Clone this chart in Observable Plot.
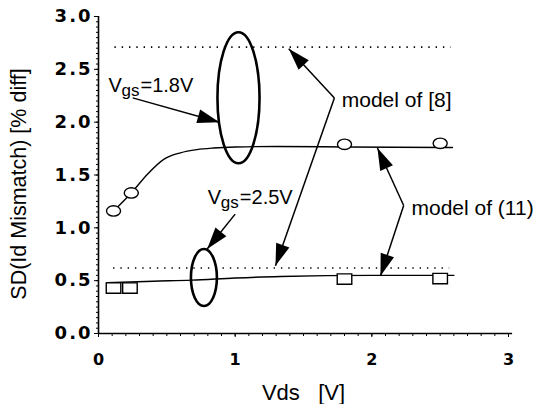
<!DOCTYPE html>
<html>
<head>
<meta charset="utf-8">
<script src="https://cdn.jsdelivr.net/npm/d3@7"></script>
<script src="https://cdn.jsdelivr.net/npm/@observablehq/plot@0.6"></script>
<style>
  html, body { margin: 0; padding: 0; background: #fff; }
  svg text { white-space: pre; }
  g[aria-label^="y-axis"] text { font-family: "DejaVu Sans", sans-serif; font-weight: bold; font-size: 18px; letter-spacing: 2px; fill: #000; }
  g[aria-label^="x-axis"] text { font-family: "DejaVu Sans", sans-serif; font-weight: bold; font-size: 16px; fill: #000; }
  g[aria-label^="y-axis"], g[aria-label^="x-axis"] { color: #000; }
</style>
</head>
<body>
<div id="chart"></div>
<script>
// ---- data ----
const circleVds = [0.11, 0.24, 1.80, 2.50];          // Vgs = 1.8 V measurements
const circleSD  = [1.16, 1.33, 1.79, 1.80];
const squareVds = [0.11, 0.23, 1.80, 2.50];          // Vgs = 2.5 V measurements
const squareSD  = [0.43, 0.43, 0.515, 0.52];
const fit18Vds = [0.11, 0.24, 0.36, 0.48, 0.60, 0.72, 0.84, 1.00, 1.30, 1.80, 2.59]; // model of (11), 1.8 V
const fit18SD  = [1.16, 1.33, 1.51, 1.65, 1.71, 1.74, 1.755, 1.765, 1.77, 1.765, 1.76];
const fit25Vds = [0.06, 0.40, 0.68, 1.00, 1.33, 2.00, 2.60];                         // model of (11), 2.5 V
const fit25SD  = [0.48, 0.495, 0.505, 0.525, 0.54, 0.55, 0.55];
const model8SD = [2.71, 0.62];                       // model of [8] (dotted)
const model8From = [0.12, 0.11];
const model8To   = [2.58, 2.57];
const xTicks = [0, 1, 2, 3];
const xTickLabels = ["0", "1", "2", "3"];
const yTicks = [0, 0.5, 1, 1.5, 2, 2.5, 3];
const yTickLabels = ["0.0", "0.5", "1.0", "1.5", "2.0", "2.5", "3.0"];
const xTitle = "Vds   [V]";
const yTitle = "SD(Id Mismatch) [% diff]";

// annotations (data coordinates)
const ellipseX1 = [0.874, 0.68], ellipseX2 = [1.182, 0.87];
const ellipseY1 = [1.606, 0.255], ellipseY2 = [2.846, 0.795];
const vgsX = [0.073, 0.80], vgsY = [2.281, 1.227], vgsVal = ["=1.8V", "=2.5V"];
const modelText = ["model of [8]", "model of (11)"];
const modelX = [1.78, 2.29], modelY = [2.148, 1.117];
const arrowX1 = [0.25, 1.00, 1.726, 1.726, 2.233, 2.233];
const arrowY1 = [2.23, 1.13, 2.229, 2.229, 1.211, 1.211];
const arrowX2 = [0.885, 0.795, 1.392, 1.295, 2.041, 2.063];
const arrowY2 = [2.00, 0.80, 2.694, 0.64, 1.755, 0.545];

// ---- layout ----
const W = 540, H = 404, ML = 98, MR = 32, MT = 16, MB = 71;
const xDomain = [0, 3], yDomain = [0, 3];
const sx = d3.scaleLinear(xDomain, [ML, W - MR]);
const sy = d3.scaleLinear(yDomain, [H - MB, MT]);

// ---- build tables ----
const zip2 = (a, b) => a.map((v, i) => ({x: v, y: b[i]}));
const circles = zip2(circleVds, circleSD);
const squares = zip2(squareVds, squareSD);
const fit18 = zip2(fit18Vds, fit18SD);
const fit25 = zip2(fit25Vds, fit25SD);
const dotted = model8SD.map((y, i) => ({y, x1: model8From[i], x2: model8To[i]}));
const ellipses = ellipseX1.map((v, i) => ({x1: v, x2: ellipseX2[i], y1: ellipseY1[i], y2: ellipseY2[i]}));
const vgs = vgsX.map((v, i) => ({x: v, y: vgsY[i], t: vgsVal[i]}));
const models = modelText.map((t, i) => ({t, x: modelX[i], y: modelY[i]}));
const arrows = arrowX1.map((v, i) => ({x1: v, y1: arrowY1[i], x2: arrowX2[i], y2: arrowY2[i]}));
const yMinor = d3.range(0, 3.0001, 0.05);
const xMinor = d3.range(0, 3.0001, 0.1);

// custom symbols
const ovalSymbol = {draw(ctx, size) {
  const r = Math.sqrt(size / Math.PI), rx = 1.35 * r, ry = r, k = 0.5523;
  ctx.moveTo(rx, 0);
  ctx.bezierCurveTo(rx, k * ry, k * rx, ry, 0, ry);
  ctx.bezierCurveTo(-k * rx, ry, -rx, k * ry, -rx, 0);
  ctx.bezierCurveTo(-rx, -k * ry, -k * rx, -ry, 0, -ry);
  ctx.bezierCurveTo(k * rx, -ry, rx, -k * ry, rx, 0);
  ctx.closePath();
}};
const rectSymbol = {draw(ctx, size) {
  const r = Math.sqrt(size / Math.PI), w = 1.4 * r, h = r;
  ctx.moveTo(-w, -h); ctx.lineTo(w, -h); ctx.lineTo(w, h); ctx.lineTo(-w, h); ctx.closePath();
}};
const tickLeft = {draw(ctx) { ctx.moveTo(-2.5, 0); ctx.lineTo(0, 0); }};
const tickDown = {draw(ctx) { ctx.moveTo(0, 0); ctx.lineTo(0, 2.5); }};
function headSymbol(a) {
  const dx = sx(a.x2) - sx(a.x1), dy = sy(a.y2) - sy(a.y1);
  const len = Math.hypot(dx, dy), ux = dx / len, uy = dy / len;
  const hl = 22, hw = 7;
  return {draw(ctx) {
    const bx = -ux * hl, by = -uy * hl;
    ctx.moveTo(0, 0);
    ctx.lineTo(bx - uy * hw, by + ux * hw);
    ctx.lineTo(bx + uy * hw, by - ux * hw);
    ctx.closePath();
  }};
}

const sans = "Liberation Sans, Arial, Helvetica, sans-serif";

const chart = Plot.plot({
  width: W,
  height: H,
  marginLeft: ML,
  marginRight: MR,
  marginTop: MT,
  marginBottom: MB,
  style: {background: "#fff", color: "#000", fontFamily: sans},
  x: {domain: xDomain, ticks: xTicks, tickSize: 4, tickPadding: 16,
      tickFormat: d => xTickLabels[xTicks.indexOf(d)], label: null},
  y: {domain: yDomain, ticks: yTicks, tickSize: 4, tickPadding: 2,
      tickFormat: d => yTickLabels[yTicks.indexOf(d)], label: null},
  marks: [
    // axes
    Plot.ruleX([0], {y1: 0, y2: 3, stroke: "#000", strokeWidth: 1.6}),
    Plot.ruleY([0], {x1: 0, x2: 3.03, stroke: "#000", strokeWidth: 1.6}),
    Plot.dot(yMinor, {x: () => 0, y: d => d, symbol: tickLeft, fill: "none", stroke: "#000", strokeWidth: 1}),
    Plot.dot(xMinor, {x: d => d, y: () => 0, symbol: tickDown, fill: "none", stroke: "#000", strokeWidth: 1}),
    Plot.text([yTitle], {frameAnchor: "left", rotate: -90, dx: -79, dy: 9, textAnchor: "middle",
      lineAnchor: "middle", fontSize: 21.5, fill: "#000"}),
    Plot.text([xTitle], {frameAnchor: "bottom", dy: 66, textAnchor: "middle", lineAnchor: "bottom",
      fontSize: 22, fill: "#000"}),

    // model of [8]: dotted levels
    Plot.ruleY(dotted, {y: "y", x1: "x1", x2: "x2", stroke: "#000", strokeWidth: 1.6,
      strokeDasharray: "1.4,5.9"}),
    // model of (11): fitted curves
    Plot.line(fit18, {x: "x", y: "y", curve: "monotone-x", stroke: "#000", strokeWidth: 1.4}),
    Plot.line(fit25, {x: "x", y: "y", curve: "monotone-x", stroke: "#000", strokeWidth: 1.4}),
    // measurements
    Plot.dot(circles, {x: "x", y: "y", r: 5.2, symbol: ovalSymbol, fill: "#fff", stroke: "#000", strokeWidth: 1.4}),
    Plot.dot(squares, {x: "x", y: "y", r: 5.2, symbol: rectSymbol, fill: "#fff", stroke: "#000", strokeWidth: 1.4}),
    // grouping ellipses
    Plot.rect(ellipses, {x1: "x1", x2: "x2", y1: "y1", y2: "y2", rx: 1000, ry: 1000,
      fill: "none", stroke: "#000", strokeWidth: 2.6}),
    // arrows
    Plot.link(arrows, {x1: "x1", y1: "y1", x2: "x2", y2: "y2", stroke: "#000", strokeWidth: 1.5}),
    ...arrows.map(a => Plot.dot([a], {x: "x2", y: "y2", r: 3, symbol: headSymbol(a), fill: "#000", stroke: "none"})),
    // labels
    Plot.text(vgs, {x: "x", y: "y", text: () => "V", textAnchor: "start", lineAnchor: "bottom",
      fontSize: 20, fill: "#000"}),
    Plot.text(vgs, {x: "x", y: "y", text: () => "gs", textAnchor: "start", lineAnchor: "bottom",
      dx: 13, dy: 4, fontSize: 17, fill: "#000"}),
    Plot.text(vgs, {x: "x", y: "y", text: "t", textAnchor: "start", lineAnchor: "bottom",
      dx: 32, fontSize: 20, fill: "#000"}),
    Plot.text(models, {x: "x", y: "y", text: "t", textAnchor: "start", lineAnchor: "bottom",
      fontSize: 21, fill: "#000"})
  ]
});
document.getElementById("chart").appendChild(chart);
</script>
</body>
</html>
